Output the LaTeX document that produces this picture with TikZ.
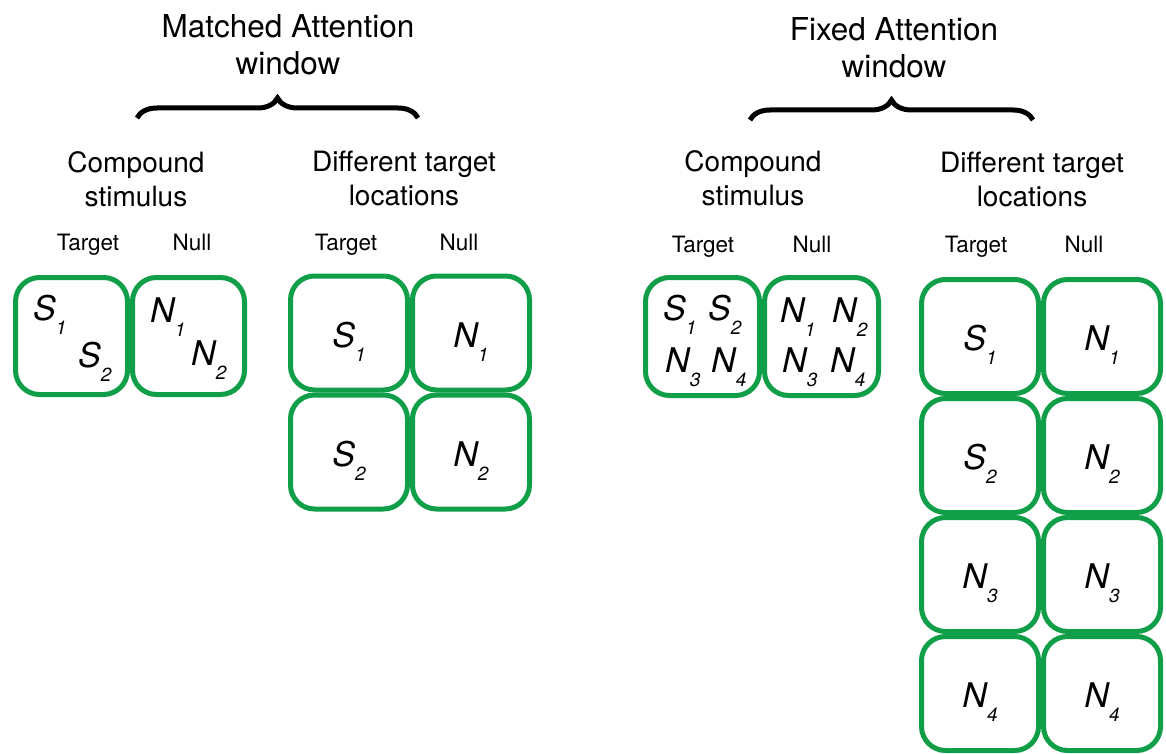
\documentclass[tikz,border=0pt]{standalone}
\usepackage{fontspec}
\setmainfont{TeX Gyre Heros}
\usetikzlibrary{positioning,decorations.pathreplacing}

\definecolor{boxgreen}{RGB}{16,159,72}

% letter with a lowered index, e.g. \sym{S}{1}
\newcommand{\sym}[2]{#1\raisebox{-14pt}{\fontsize{19}{19}\selectfont #2}}

\tikzset{
  cell/.style={draw=boxgreen, line width=5pt, rounded corners=24pt, fill=white,
    inner sep=0pt, text height=42pt, text depth=14pt,
    font=\fontsize{34}{40}\selectfont\itshape},
  comp/.style={cell, minimum width=112pt, minimum height=117pt},
  grid/.style={cell, minimum width=117pt, minimum height=114pt},
  lab/.style={anchor=base west, inner sep=0pt, font=\fontsize{34}{40}\selectfont\itshape},
  title/.style={align=center, anchor=north, inner sep=0pt, font=\fontsize{31.5}{37}\selectfont},
  group/.style={align=center, anchor=north, inner sep=0pt, font=\fontsize{28}{34}\selectfont},
  col/.style={anchor=base, inner sep=0pt, font=\fontsize{22.5}{27}\selectfont},
  window/.style={decorate, decoration={brace, amplitude=20pt}, line width=5pt}
}

\begin{document}
\begin{tikzpicture}[x=1pt,y=-1pt]
  \useasboundingbox (0,0) rectangle (1166,754);

  %% matched attention window
  \node[title] (mtitle) at (288,14) {Matched Attention\\window};
  \draw[window] (137,118) -- (418,118);

  \node[group] (mcomp) at (136,151) {Compound\\stimulus};
  \node[group] (mdiff) at (404,151) {Different target\\locations};
  \node[col] (mct) at (88,250) {Target};
  \node[col] (mcn) at (192,250) {Null};
  \node[col] (mdt) at (346,250) {Target};
  \node[col] (mdn) at (459,250) {Null};

  % compound stimulus
  \node[comp] (mca) at (71.5,336) {};
  \node[comp] (mcb) [right=0pt of mca] {};
  \node[lab] (mcs1) at (33,320) {\sym{S}{1}};
  \node[lab] (mcs2) at (78,367) {\sym{S}{2}};
  \node[lab] (mcn1) at (150,322) {\sym{N}{1}};
  \node[lab] (mcn2) at (191,365) {\sym{N}{2}};

  % different target locations
  \node[grid] (ms1) at (349,333) {\sym{S}{1}};
  \node[grid] (mn1) [right=0pt of ms1] {\sym{N}{1}};
  \node[grid] (ms2) [below=0pt of ms1] {\sym{S}{2}};
  \node[grid] (mn2) [right=0pt of ms2] {\sym{N}{2}};

  %% fixed attention window
  \node[title] (ftitle) at (894,17) {Fixed Attention\\window};
  \draw[window] (750,120) -- (1033,120);

  \node[group] (fcomp) at (753,150) {Compound\\stimulus};
  \node[group] (fdiff) at (1032,152) {Different target\\locations};
  \node[col] (fct) at (703,252) {Target};
  \node[col] (fcn) at (812,252) {Null};
  \node[col] (fdt) at (976,252) {Target};
  \node[col] (fdn) at (1084,252) {Null};

  % compound stimulus
  \node[comp, minimum width=114pt, minimum height=118pt] (fca) at (702.5,336.5) {};
  \node[comp, minimum width=114pt, minimum height=118pt] (fcb) [right=0pt of fca] {};
  \node[lab] (fcs1) at (663,320) {\sym{S}{1}};
  \node[lab] (fcs2) at (708,320) {\sym{S}{2}};
  \node[lab] (fcn3) at (665,372) {\sym{N}{3}};
  \node[lab] (fcn4) at (711,372) {\sym{N}{4}};
  \node[lab] (fcn1) at (780,322) {\sym{N}{1}};
  \node[lab] (fcn2) at (832,322) {\sym{N}{2}};
  \node[lab] (fcn3b) at (782,372) {\sym{N}{3}};
  \node[lab] (fcn4b) at (830,372) {\sym{N}{4}};

  % different target locations
  \node[grid] (fs1) at (980,336.5) {\sym{S}{1}};
  \node[grid] (fn1) [right=0pt of fs1] {\sym{N}{1}};
  \node[grid] (fs2) [below=0pt of fs1] {\sym{S}{2}};
  \node[grid] (fn2) [right=0pt of fs2] {\sym{N}{2}};
  \node[grid] (fs3) [below=0pt of fs2] {\sym{N}{3}};
  \node[grid] (fn3) [right=0pt of fs3] {\sym{N}{3}};
  \node[grid] (fs4) [below=0pt of fs3] {\sym{N}{4}};
  \node[grid] (fn4) [right=0pt of fs4] {\sym{N}{4}};
\end{tikzpicture}
\end{document}
